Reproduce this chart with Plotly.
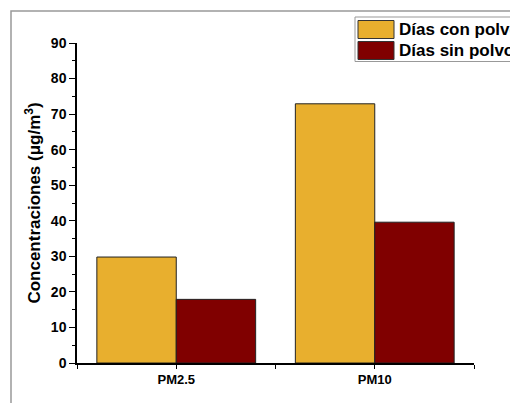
import plotly.graph_objects as go

categories = ["PM2.5", "PM10"]
con_polvo = [29.8, 72.9]
sin_polvo = [17.9, 39.6]
series_names = ["Días con polvo", "Días sin polvo"]
colors = ["#E8AF2E", "#800000"]
y_ticks = [0, 10, 20, 30, 40, 50, 60, 70, 80, 90]

xpos = list(range(len(categories)))

fig = go.Figure()
for name, vals, col in zip(series_names, [con_polvo, sin_polvo], colors):
    fig.add_trace(go.Bar(x=xpos, y=vals, name=name, marker=dict(color=col, line=dict(color="#222222", width=1)),
                         showlegend=False))

FONT = "Arial, Liberation Sans, sans-serif"
fig.update_layout(
    width=510, height=403,
    margin=dict(l=77, r=36, t=43, b=40),
    plot_bgcolor="white", paper_bgcolor="white",
    barmode="group", bargap=0.2, bargroupgap=0,
    font=dict(family=FONT, color="black"),
)
fig.update_xaxes(
    range=[-0.5, 1.5], tickvals=xpos, ticktext=categories,
    showline=True, linecolor="black", linewidth=1.5, showgrid=False, zeroline=False,
    ticks="outside", ticklen=4, tickwidth=1, tickcolor="black",
    tickfont=dict(size=13, family=FONT, weight="bold"),
    minor=dict(tickvals=[-0.5, 0.5, 1.5], ticks="outside", ticklen=4, tickcolor="black", tickwidth=1),
)
fig.update_yaxes(
    range=[0, 90], tickvals=y_ticks,
    showline=True, linecolor="black", linewidth=1.5, showgrid=False, zeroline=False,
    ticks="outside", ticklen=6, tickwidth=1, tickcolor="black",
    tickfont=dict(size=14, family=FONT, weight="bold"),
    minor=dict(dtick=5, ticks="outside", ticklen=3, tickcolor="black", tickwidth=1),
    title=dict(text="Concentraciones (μg/m<sup>3</sup>)", standoff=6,
               font=dict(size=17, family=FONT, weight="bold")),
)

# outer gray frame
W, H, L, R, T, B = 510, 403, 77, 36, 43, 40
pw, ph = W - L - R, H - T - B
def px(x): return (x - L) / pw
def py(y): return (H - B - y) / ph
fig.add_shape(type="path", xref="paper", yref="paper",
              path=f"M {px(11)} {py(403)} L {px(11)} {py(11)} L {px(512)} {py(11)}",
              line=dict(color="#999999", width=1.5))

# custom legend
fig.add_shape(type="rect", xref="paper", yref="paper", x0=px(355), x1=px(515), y0=py(61.5), y1=py(17),
              line=dict(color="#999999", width=1), fillcolor="white")
for i, (name, col) in enumerate(zip(series_names, colors)):
    yc = 29.5 + i * 21
    fig.add_shape(type="rect", xref="paper", yref="paper", x0=px(358), x1=px(394), y0=py(yc + 9), y1=py(yc - 9),
                  line=dict(color="#333333", width=1), fillcolor=col)
    fig.add_annotation(xref="paper", yref="paper", x=px(397), y=py(yc), text=name, showarrow=False,
                       xanchor="left", yanchor="middle",
                       font=dict(size=17, family=FONT, weight="bold", color="black"))

fig.write_html("out.html")
